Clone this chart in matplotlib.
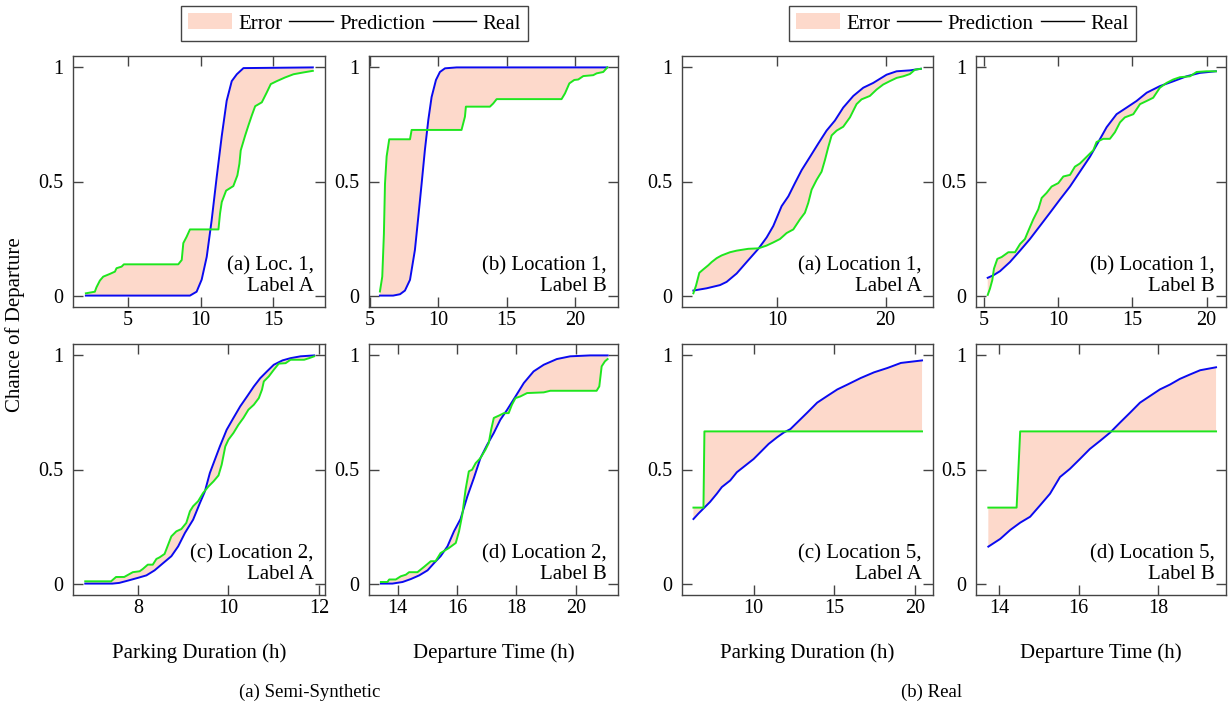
import numpy as np
import matplotlib
matplotlib.use("Agg")
import matplotlib.pyplot as plt
from matplotlib.patches import Patch
from matplotlib.lines import Line2D

plt.rcParams['font.family'] = ['Liberation Serif', 'DejaVu Serif']
plt.rcParams['mathtext.fontset'] = 'stix'

# ---------------- data ----------------
# Semi-synthetic, (a) Loc. 1, Label A (parking duration)
s1_real_x = [2.07, 2.69, 2.8, 3.04, 3.27, 3.73, 4.08, 4.19, 4.54, 4.70, 8.46, 8.7, 8.81, 9.04, 9.27, 11.24,
             11.35, 11.47, 11.77, 12.27, 12.55, 12.69, 12.78, 13.08, 13.31, 13.55, 13.78, 14.24, 14.58,
             14.86, 15.28, 15.85, 16.43, 17.12, 17.77]
s1_real_y = [0.01, 0.017, 0.036, 0.066, 0.083, 0.095, 0.105, 0.12, 0.127, 0.137, 0.137, 0.156, 0.23, 0.258,
             0.29, 0.29, 0.36, 0.41, 0.46, 0.48, 0.527, 0.578, 0.636, 0.70, 0.745, 0.79, 0.83, 0.847, 0.89,
             0.927, 0.94, 0.956, 0.97, 0.978, 0.985]
s1_pred_x = [2.07, 9.27, 9.73, 10.08, 10.43, 10.77, 11.12, 11.47, 11.81, 12.16, 12.51, 12.97, 17.77]
s1_pred_y = [0.0, 0.0, 0.017, 0.07, 0.17, 0.33, 0.52, 0.70, 0.854, 0.94, 0.97, 0.997, 1.0]

# Semi-synthetic, (b) Location 1, Label B (departure time)
s2_real_x = [5.73, 5.9, 6.02, 6.1, 6.22, 6.41, 7.93, 8.05, 11.7, 11.95, 12.02, 13.78, 14.02, 14.27, 19.02,
             19.27, 19.59, 19.95, 20.24, 20.61, 21.34, 21.59, 22.07, 22.37]
s2_real_y = [0.018, 0.083, 0.27, 0.49, 0.61, 0.685, 0.685, 0.726, 0.726, 0.784, 0.828, 0.828, 0.842, 0.861,
             0.861, 0.886, 0.93, 0.945, 0.947, 0.962, 0.966, 0.974, 0.98, 1.0]
s2_pred_x = [5.73, 6.7, 7.2, 7.56, 7.93, 8.29, 8.54, 8.78, 9.02, 9.27, 9.51, 9.83, 10.12, 10.49, 11.34, 22.37]
s2_pred_y = [0.0, 0.0, 0.006, 0.022, 0.069, 0.2, 0.346, 0.49, 0.638, 0.77, 0.87, 0.945, 0.98, 0.996, 1.0, 1.0]

# Semi-synthetic, (c) Location 2, Label A
s3_real_x = [6.84, 7.41, 7.52, 7.7, 7.89, 8.04, 8.11, 8.22, 8.33, 8.41, 8.48, 8.59, 8.67, 8.74, 8.85, 8.96,
             9.07, 9.15, 9.22, 9.33, 9.44, 9.56, 9.67, 9.78, 9.85, 9.93, 10.0, 10.11, 10.22, 10.33, 10.44,
             10.56, 10.67, 10.74, 10.78, 10.89, 11.0, 11.11, 11.26, 11.37, 11.67, 11.78, 11.89]
s3_real_y = [0.01, 0.01, 0.029, 0.029, 0.05, 0.054, 0.064, 0.083, 0.083, 0.108, 0.115, 0.13, 0.171, 0.207,
             0.229, 0.239, 0.266, 0.317, 0.339, 0.361, 0.397, 0.426, 0.448, 0.474, 0.521, 0.601, 0.631,
             0.66, 0.696, 0.726, 0.762, 0.784, 0.813, 0.85, 0.886, 0.908, 0.937, 0.964, 0.966, 0.981,
             0.981, 0.988, 0.996]
s3_pred_x = [6.84, 7.44, 7.59, 7.78, 8.0, 8.19, 8.37, 8.56, 8.74, 8.89, 9.04, 9.22, 9.37, 9.48, 9.59, 9.7,
             9.81, 9.96, 10.11, 10.26, 10.41, 10.56, 10.7, 10.85, 11.0, 11.19, 11.37, 11.59, 11.89]
s3_pred_y = [0.0, 0.0, 0.003, 0.013, 0.025, 0.036, 0.058, 0.09, 0.12, 0.163, 0.222, 0.28, 0.353, 0.404,
             0.485, 0.543, 0.601, 0.674, 0.726, 0.777, 0.82, 0.864, 0.9, 0.93, 0.959, 0.978, 0.988, 0.996, 1.0]

# Semi-synthetic, (d) Location 2, Label B
s4_real_x = [13.44, 13.66, 13.72, 13.94, 14.11, 14.28, 14.39, 14.67, 14.89, 15.12, 15.28, 15.45, 15.73,
             15.96, 16.07, 16.18, 16.29, 16.4, 16.51, 16.63, 16.79, 16.96, 17.07, 17.15, 17.24, 17.41,
             17.58, 17.74, 17.85, 17.97, 18.13, 18.36, 18.92, 19.14, 20.7, 20.79, 20.87, 20.98, 21.07]
s4_real_y = [0.007, 0.007, 0.018, 0.018, 0.032, 0.039, 0.05, 0.05, 0.073, 0.098, 0.098, 0.134, 0.156,
             0.178, 0.229, 0.302, 0.412, 0.492, 0.499, 0.528, 0.55, 0.587, 0.616, 0.674, 0.726, 0.736,
             0.747, 0.747, 0.784, 0.813, 0.82, 0.835, 0.838, 0.845, 0.845, 0.864, 0.952, 0.974, 0.984]
s4_pred_x = [13.44, 13.83, 14.17, 14.45, 14.73, 15.01, 15.23, 15.45, 15.68, 15.9, 16.12, 16.35, 16.57,
             16.79, 17.02, 17.24, 17.46, 17.69, 17.97, 18.25, 18.58, 18.92, 19.36, 19.81, 20.48, 21.07]
s4_pred_y = [0.0, 0.0, 0.007, 0.02, 0.036, 0.058, 0.09, 0.12, 0.163, 0.229, 0.283, 0.382, 0.463, 0.55,
             0.609, 0.66, 0.718, 0.762, 0.82, 0.879, 0.93, 0.959, 0.984, 0.996, 1.0, 1.0]

# Real, (a) Location 1, Label A
r1_real_x = [2.25, 2.49, 2.8, 3.17, 3.63, 3.94, 4.4, 4.86, 5.63, 6.25, 7.32, 8.25, 9.0, 9.63, 10.25, 10.86,
             11.48, 12.09, 12.55, 12.86, 13.17, 13.63, 14.09, 14.4, 14.71, 15.02, 15.48, 16.09, 16.71,
             17.32, 17.78, 18.55, 19.17, 19.78, 20.4, 21.02, 21.63, 22.25, 22.71, 23.26]
r1_real_y = [0.01, 0.043, 0.10, 0.115, 0.133, 0.147, 0.164, 0.176, 0.19, 0.197, 0.205, 0.207, 0.219, 0.233,
             0.248, 0.274, 0.29, 0.334, 0.363, 0.406, 0.464, 0.507, 0.543, 0.594, 0.651, 0.702, 0.723,
             0.74, 0.781, 0.839, 0.86, 0.875, 0.903, 0.925, 0.94, 0.954, 0.961, 0.971, 0.99, 0.994]
r1_pred_x = [2.25, 3.48, 4.71, 5.32, 6.25, 7.17, 8.25, 9.02, 9.63, 10.4, 11.02, 11.63, 12.25, 13.02, 13.78,
             14.55, 15.32, 16.09, 17.02, 17.94, 18.86, 20.09, 21.02, 22.25, 23.26]
r1_pred_y = [0.022, 0.032, 0.046, 0.06, 0.097, 0.147, 0.205, 0.255, 0.305, 0.392, 0.435, 0.493, 0.55,
             0.608, 0.666, 0.723, 0.767, 0.824, 0.875, 0.911, 0.932, 0.968, 0.983, 0.987, 0.994]

# Real, (b) Location 1, Label B
r2_real_x = [5.24, 5.39, 5.55, 5.66, 5.89, 6.18, 6.63, 7.08, 7.42, 7.75, 7.98, 8.31, 8.65, 8.88, 9.21, 9.55,
             10.0, 10.34, 10.79, 11.12, 11.46, 11.91, 12.36, 12.58, 13.03, 13.48, 13.82, 14.16, 14.49,
             15.06, 15.51, 15.96, 16.4, 16.85, 17.3, 17.75, 18.2, 18.88, 19.33, 20.0, 20.63]
r2_real_y = [0.003, 0.03, 0.068, 0.118, 0.161, 0.169, 0.19, 0.19, 0.226, 0.248, 0.284, 0.334, 0.378, 0.428,
             0.45, 0.478, 0.493, 0.522, 0.529, 0.565, 0.579, 0.608, 0.637, 0.673, 0.687, 0.687, 0.716,
             0.759, 0.781, 0.795, 0.839, 0.853, 0.867, 0.911, 0.932, 0.947, 0.957, 0.961, 0.98, 0.983, 0.983]
r2_pred_x = [5.24, 5.62, 6.07, 6.74, 7.42, 8.09, 8.76, 9.44, 10.11, 10.79, 11.46, 12.13, 12.7, 13.26, 13.93,
             14.61, 15.28, 15.96, 16.85, 17.75, 18.65, 19.55, 20.63]
r2_pred_y = [0.078, 0.089, 0.107, 0.147, 0.197, 0.248, 0.305, 0.363, 0.421, 0.478, 0.543, 0.608, 0.673,
             0.738, 0.795, 0.824, 0.853, 0.889, 0.918, 0.939, 0.961, 0.976, 0.983]

# Real, (c) Location 5, Label A
r3_real_x = [6.27, 6.89, 6.95, 20.44]
r3_real_y = [0.333, 0.333, 0.667, 0.667]
r3_pred_x = [6.27, 6.58, 6.89, 7.3, 7.72, 8.03, 8.55, 8.96, 9.48, 10.0, 10.41, 10.93, 11.45, 11.87, 12.28,
             12.8, 13.32, 13.94, 14.56, 15.19, 15.81, 16.64, 17.47, 18.3, 19.13, 20.44]
r3_pred_y = [0.283, 0.307, 0.329, 0.358, 0.394, 0.423, 0.452, 0.488, 0.517, 0.546, 0.575, 0.612, 0.641,
             0.662, 0.677, 0.713, 0.749, 0.793, 0.822, 0.851, 0.872, 0.901, 0.926, 0.945, 0.967, 0.978]

# Real, (d) Location 5, Label B
r4_real_x = [13.73, 14.44, 14.53, 19.45]
r4_real_y = [0.333, 0.333, 0.667, 0.667]
r4_pred_x = [13.73, 14.03, 14.28, 14.53, 14.78, 15.03, 15.28, 15.53, 15.78, 16.03, 16.28, 16.54, 16.79,
             17.04, 17.29, 17.54, 17.79, 18.04, 18.29, 18.54, 18.79, 19.05, 19.45]
r4_pred_y = [0.162, 0.196, 0.235, 0.267, 0.293, 0.343, 0.394, 0.467, 0.503, 0.546, 0.59, 0.626, 0.662,
             0.706, 0.749, 0.793, 0.822, 0.851, 0.872, 0.897, 0.916, 0.935, 0.948]

panel_titles = ["(a) Loc. 1,\nLabel A", "(b) Location 1,\nLabel B", "(a) Location 1,\nLabel A",
                "(b) Location 1,\nLabel B", "(c) Location 2,\nLabel A", "(d) Location 2,\nLabel B",
                "(c) Location 5,\nLabel A", "(d) Location 5,\nLabel B"]
xticks_list = [[5, 10, 15], [5, 10, 15, 20], [10, 20], [5, 10, 15, 20],
               [8, 10, 12], [14, 16, 18, 20], [10, 15, 20], [14, 16, 18]]
xlims = [(1.18, 18.61), (4.93, 23.15), (1.2, 24.38), (4.45, 21.31),
         (6.57, 12.13), (13.04, 21.42), (5.56, 21.12), (13.42, 19.7)]
yticks = [0, 0.5, 1]
ytick_labels = ["0", "0.5", "1"]
xlabels = ["Parking Duration (h)", "Departure Time (h)", "Parking Duration (h)", "Departure Time (h)"]
legend_labels = ["Error", "Prediction", "Real"]
captions = ["(a) Semi-Synthetic", "(b) Real"]

series = [(s1_real_x, s1_real_y, s1_pred_x, s1_pred_y),
          (s2_real_x, s2_real_y, s2_pred_x, s2_pred_y),
          (r1_real_x, r1_real_y, r1_pred_x, r1_pred_y),
          (r2_real_x, r2_real_y, r2_pred_x, r2_pred_y),
          (s3_real_x, s3_real_y, s3_pred_x, s3_pred_y),
          (s4_real_x, s4_real_y, s4_pred_x, s4_pred_y),
          (r3_real_x, r3_real_y, r3_pred_x, r3_pred_y),
          (r4_real_x, r4_real_y, r4_pred_x, r4_pred_y)]

# ---------------- styling / layout ----------------
W, H = 1228, 705
FILL = '#fdd9cb'
GREEN = '#1ee61e'
BLUE = '#0a0af0'
SPINE = '#444444'

fig = plt.figure(figsize=(W / 100, H / 100), dpi=100)

col_px = [(73, 325), (369, 618), (682, 933), (976, 1226)]
row_px = [(56, 307), (344, 595)]

axes = []
for i in range(8):
    r, c = divmod(i, 4)
    x0, x1 = col_px[c]
    t, b = row_px[r]
    ax = fig.add_axes([x0 / W, 1 - b / H, (x1 - x0) / W, (b - t) / H])
    rx, ry, px, py = series[i]
    poly_x = np.concatenate([np.asarray(rx), np.asarray(px)[::-1]])
    poly_y = np.concatenate([np.asarray(ry), np.asarray(py)[::-1]])
    ax.fill(poly_x, poly_y, color=FILL, lw=0, zorder=1)
    ax.plot(px, py, color=BLUE, lw=1.4, zorder=3)
    ax.plot(rx, ry, color=GREEN, lw=1.4, zorder=4)
    ax.set_xlim(*xlims[i])
    ax.set_ylim(-0.05, 1.05)
    ax.set_xticks(xticks_list[i])
    ax.set_xticklabels([str(v) for v in xticks_list[i]])
    ax.set_yticks(yticks)
    ax.set_yticklabels(ytick_labels)
    ax.tick_params(axis='both', which='both', direction='in', top=True, right=True,
                   length=7.5, width=1.0, color=SPINE, labelsize=14.5)
    ax.tick_params(axis='y', pad=7)
    ax.tick_params(axis='x', pad=3)
    for s in ax.spines.values():
        s.set_color(SPINE)
        s.set_linewidth(1.0)
    ax.text(0.955, 0.045, panel_titles[i], transform=ax.transAxes, ha='right', va='bottom',
            multialignment='right', fontsize=15, linespacing=1.1, zorder=5)
    axes.append(ax)

# x labels under bottom row
for c in range(4):
    x0, x1 = col_px[c]
    fig.text((x0 + x1) / 2 / W, 1 - 653 / H, xlabels[c], ha='center', va='center', fontsize=15)

# y label
fig.text(15 / W, 1 - 325 / H, "Chance of Departure", rotation=90, ha='center', va='center', fontsize=15)

# captions
fig.text(310 / W, 1 - 692 / H, captions[0], ha='center', va='center', fontsize=13.5)
fig.text(932 / W, 1 - 692 / H, captions[1], ha='center', va='center', fontsize=13.5)

# legends
handles = [Patch(facecolor=FILL, edgecolor='none'),
           Line2D([], [], color='black', lw=1.0),
           Line2D([], [], color='black', lw=1.0)]
for cx in (354.5, 962.5):
    leg = fig.legend(handles, legend_labels, loc='center', bbox_to_anchor=(cx / W, 1 - 23.5 / H),
                     ncol=3, frameon=True, fancybox=False, fontsize=15, handlelength=2.1,
                     handletextpad=0.3, columnspacing=0.35, borderpad=0.35, handleheight=0.8)
    fr = leg.get_frame()
    fr.set_edgecolor(SPINE)
    fr.set_linewidth(1.0)
    fr.set_alpha(1)

fig.savefig("out.png", dpi=100)
